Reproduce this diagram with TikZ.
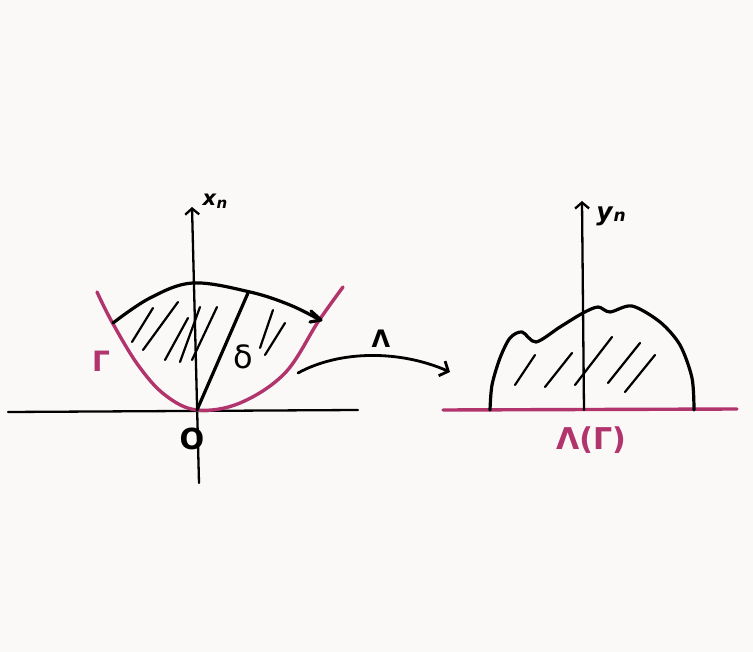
\documentclass[tikz,border=0pt]{standalone}
\usepackage{fontspec}
\setmainfont{DejaVu Sans}
\usetikzlibrary{arrows.meta}
\definecolor{paper}{RGB}{250,249,248}
\definecolor{gam}{RGB}{178,52,108}
\tikzset{
  axisline/.style={line width=2.3pt, line cap=round, black},
  curveline/.style={line width=3.2pt, line cap=round, line join=round, black},
  gamline/.style={line width=3.4pt, line cap=round, line join=round, gam},
  hatchline/.style={line width=2.2pt, line cap=round, black},
  barb/.style={-{Straight Barb[length=6pt,width=14pt,line width=2.3pt]}},
  lbl/.style={inner sep=0pt, font=\bfseries},
}
\newcommand{\fsz}[1]{\fontsize{#1}{#1}\selectfont}
\begin{document}
\begin{tikzpicture}[x=1pt,y=-1pt]
\fill[paper] (0,0) rectangle (753,652);
\useasboundingbox (0,0) rectangle (753,652);

% ---------- left picture ----------
\coordinate (O) at (197,410);
\coordinate (xl) at (8,412);
\coordinate (xr) at (358,410);
\coordinate (vtop) at (192,207);
\coordinate (vbot) at (199,483);
\draw[axisline] (xl) -- (xr);
\draw[axisline, barb] (vbot) -- (vtop);
\node[lbl] (xn) at (215,201) {\fsz{21}\textit{x}\raisebox{-3pt}{\fsz{15}\textit{n}}};

% Gamma parabola
\draw[gamline] plot[smooth, tension=0.6] coordinates
  {(97,292) (112,322) (138,365) (165,395) (197,410) (240,403) (285,373) (318,322) (343,287)};

% hatch region boundary arc
\draw[curveline] plot[smooth, tension=0.6] coordinates
  {(113,323) (150,298) (193,283) (250,292) (290,305) (320,320)};
\draw[curveline] (311,311) -- (321,320) -- (310,322);

% delta segment
\coordinate (dtop) at (248,293);
\draw[curveline] (O) -- (dtop);
\node[lbl, font=\mdseries] (dl) at (243,357) {\fsz{32}δ};

% hatching left
\draw[hatchline] (132,342) -- (153,308);
\draw[hatchline] (143,350) -- (178,302);
\draw[hatchline] (165,360) -- (188,318);
\draw[hatchline] (180,362) -- (200,307);
\draw[hatchline] (192,360) -- (217,307);
\draw[hatchline] (260,348) -- (273,310);
\draw[hatchline] (265,355) -- (285,323);

\node[lbl, text=gam] (gl) at (101,361) {\fsz{28}Γ};
\node[lbl] (ol) at (192,439) {\fsz{29}O};

% ---------- mapping arrow ----------
\coordinate (m1) at (298,373);
\coordinate (m2) at (450,372);
\draw[curveline, line width=2.8pt, -{Straight Barb[length=7pt,width=16pt,line width=2.8pt]}]
  (m1) .. controls (340,350) and (400,350) .. (m2);
\node[lbl] (lam) at (381,339) {\fsz{24}Λ};

% ---------- right picture ----------
\coordinate (bl) at (443,410);
\coordinate (br) at (737,409);
\draw[gamline] (bl) -- (br);
\coordinate (ybot) at (584,410);
\coordinate (ytop) at (582,201);
\draw[axisline, barb] (ybot) -- (ytop);
\node[lbl] (yn) at (611,216) {\fsz{25}\textit{y}\raisebox{-1pt}{\fsz{17}\textit{n}}};

\draw[curveline] plot[smooth, tension=0.5] coordinates
  {(490,410) (492,385) (500,358) (510,338) (522,332) (536,342) (560,327) (583,313)
   (598,307) (610,312) (632,306) (660,322) (680,345) (692,378) (694,410)};

% hatching right
\draw[hatchline] (515,385) -- (535,355);
\draw[hatchline] (545,387) -- (572,353);
\draw[hatchline] (575,385) -- (612,337);
\draw[hatchline] (608,383) -- (640,343);
\draw[hatchline] (625,392) -- (655,355);

\node[lbl, text=gam] (lg) at (591,440) {\fsz{30}Λ(Γ)};
\end{tikzpicture}
\end{document}
